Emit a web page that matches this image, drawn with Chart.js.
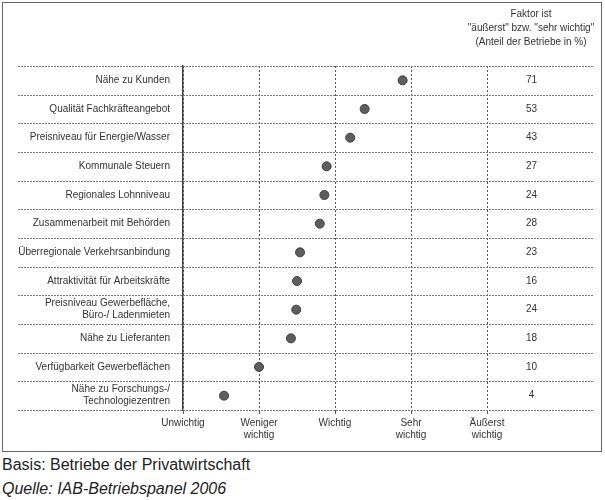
<!DOCTYPE html>
<html lang="de">
<head>
  <meta charset="UTF-8" />
  <title>Standortfaktoren</title>
  <script src="https://cdn.jsdelivr.net/npm/chart.js"></script>
  <style>
    body {
      margin: 0;
      background: #fff;
      font-family: "Liberation Sans", Arial, sans-serif;
    }
    #frame {
      position: absolute;
      left: 2px;
      top: 2px;
      width: 598px;
      height: 448px;
      border: 1px solid #666;
    }
    #wrap {
      position: absolute;
      left: 0;
      top: 0;
      width: 605px;
      height: 455px;
    }
    .foot {
      position: absolute;
      left: 2px;
      font-size: 16px;
      color: #222;
    }
  </style>
</head>
<body>
  <div id="frame"></div>
  <div id="wrap"><canvas id="c"></canvas></div>
  <div class="foot" style="top:456px">Basis: Betriebe der Privatwirtschaft</div>
  <div class="foot" style="top:480px; font-style:italic">Quelle: IAB-Betriebspanel 2006</div>

  <script>
    // Faktoren (von oben nach unten)
    const factors = [
      'Nähe zu Kunden',
      'Qualität Fachkräfteangebot',
      'Preisniveau für Energie/Wasser',
      'Kommunale Steuern',
      'Regionales Lohnniveau',
      'Zusammenarbeit mit Behörden',
      'Überregionale Verkehrsanbindung',
      'Attraktivität für Arbeitskräfte',
      ['Preisniveau Gewerbefläche,', 'Büro-/ Ladenmieten'],
      'Nähe zu Lieferanten',
      'Verfügbarkeit Gewerbeflächen',
      ['Nähe zu Forschungs-/', 'Technologiezentren']
    ];
    // mittlere Bewertung (0 = unwichtig ... 4 = äußerst wichtig)
    const rating = [2.89, 2.39, 2.20, 1.89, 1.86, 1.80, 1.54, 1.50, 1.49, 1.42, 1.00, 0.54];
    // Anteil "äußerst" bzw. "sehr wichtig" in %
    const share = ['71', '53', '43', '27', '24', '28', '23', '16', '24', '18', '10', '4'];
    const scaleLabels = ['Unwichtig', ['Weniger', 'wichtig'], 'Wichtig', ['Sehr', 'wichtig'], ['Äußerst', 'wichtig']];
    const header = ['Faktor ist', '"äußerst" bzw. "sehr wichtig"', '(Anteil der Betriebe in %)'];

    const FONT = '"Liberation Sans", Arial, sans-serif';

    // gestrichelte Zeilenlinien über die ganze Breite + Kopftext
    const rowLines = {
      id: 'rowLines',
      beforeDatasetsDraw(chart) {
        const ctx = chart.ctx;
        const y = chart.scales.y;
        const area = chart.chartArea;
        const n = factors.length;
        ctx.save();
        ctx.strokeStyle = '#777';
        ctx.lineWidth = 1.2;
        ctx.setLineDash([2, 1]);
        for (let i = 0; i <= n; i++) {
          let py;
          if (i === 0) py = area.top;
          else if (i === n) py = area.bottom;
          else py = (y.getPixelForValue(i - 1) + y.getPixelForValue(i)) / 2;
          py = Math.round(py) + 0.5;
          ctx.beginPath();
          ctx.moveTo(18, py);
          ctx.lineTo(594, py);
          ctx.stroke();
        }
        ctx.restore();
      },
      afterDraw(chart) {
        const ctx = chart.ctx;
        ctx.save();
        ctx.fillStyle = '#333';
        ctx.font = '10px ' + FONT;
        ctx.textAlign = 'center';
        ctx.textBaseline = 'middle';
        header.forEach((t, i) => ctx.fillText(t, 531, 14 + i * 14));
        ctx.restore();
      }
    };

    new Chart(document.getElementById('c'), {
      type: 'line',
      data: {
        labels: factors,
        datasets: [{
          data: rating,
          showLine: false,
          pointRadius: 4.5,
          pointBackgroundColor: '#5e5e5e',
          pointBorderColor: '#3c3c3c',
          pointBorderWidth: 1
        }]
      },
      options: {
        indexAxis: 'y',
        responsive: true,
        maintainAspectRatio: false,
        animation: false,
        layout: { padding: { top: 66, right: 28, bottom: 0, left: 0 } },
        plugins: { legend: { display: false }, tooltip: { enabled: false } },
        scales: {
          x: {
            type: 'linear',
            min: 0,
            max: 4,
            ticks: {
              stepSize: 1,
              color: '#333',
              font: { size: 10, family: FONT },
              padding: 3,
              maxRotation: 0,
              callback: v => scaleLabels[v]
            },
            grid: {
              color: '#555',
              lineWidth: 1,
              tickLength: 4,
              drawOnChartArea: true
            },
            border: { display: false, dash: [2, 2] },
            afterFit(s) { s.height = 40; }
          },
          y: {
            type: 'category',
            offset: true,
            ticks: {
              color: '#333',
              font: { size: 10, family: FONT },
              padding: 13
            },
            grid: { display: false, drawTicks: false },
            border: { display: true, color: '#444', width: 1.5 },
            afterFit(s) { s.width = 183; }
          },
          y2: {
            type: 'category',
            position: 'right',
            labels: share,
            offset: true,
            ticks: {
              color: '#333',
              font: { size: 10, family: FONT },
              crossAlign: 'center',
              padding: 39
            },
            grid: { display: false, drawTicks: false },
            border: { display: false },
            afterFit(s) { s.width = 90; }
          }
        }
      },
      plugins: [rowLines]
    });
  </script>
</body>
</html>
